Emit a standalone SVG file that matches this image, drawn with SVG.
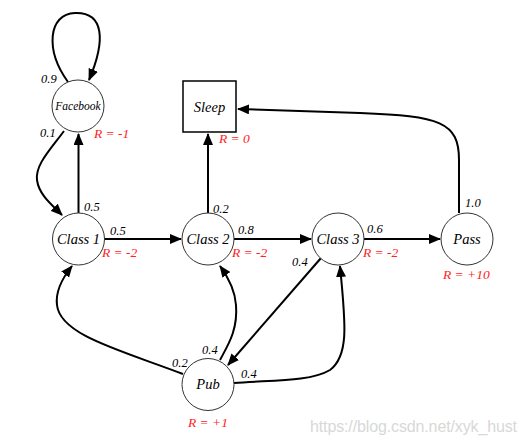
<svg xmlns="http://www.w3.org/2000/svg" width="527" height="446" viewBox="0 0 527 446">
<style>
.node{fill:#fff;stroke:#333;stroke-width:1}
.box{fill:#fff;stroke:#000;stroke-width:1.5}
.lbl{font-family:'Liberation Serif','DejaVu Serif','Times New Roman',serif;font-style:italic;font-size:14.5px;fill:#000;text-anchor:middle}
.el{font-family:'Liberation Serif','DejaVu Serif','Times New Roman',serif;font-style:italic;font-size:12.5px;fill:#000}
.r{font-family:'Liberation Serif','DejaVu Serif','Times New Roman',serif;font-style:italic;font-size:13.5px;fill:#f22}
.e{fill:none;stroke:#000;stroke-width:2;marker-end:url(#arr)}
.wm{font-family:'Liberation Sans',sans-serif;font-size:16px;fill:#d8d8d8}
</style>
<defs>
<marker id="arr" markerWidth="12" markerHeight="10" refX="11" refY="5" orient="auto" markerUnits="userSpaceOnUse">
<path d="M0,0 L12,5 L0,10 z" fill="#000"/>
</marker>
</defs>
<g id="connectors">
<path class="e" d="M68,82 C45,50 48,14 75,13 C104,12 106,40 89,80"/>
<path class="e" d="M64,131 C50,150 35,165 37,180 C39,195 52,205 62,215"/>
<path class="e" d="M78.5,213 L78.5,134"/>
<path class="e" d="M104,239 L181,239"/>
<path class="e" d="M208,213 L208,134"/>
<path class="e" d="M234,239 L311,239"/>
<path class="e" d="M364,239 L440,239"/>
<path class="e" d="M459,213 L459,160 C459,122 440,116 360,113 L238,109"/>
<path class="e" d="M321,258 L228,365"/>
<path class="e" d="M183,374 C120,350 60,335 57,305 C55,290 64,276 72,266"/>
<path class="e" d="M220,360 C228,345 238,330 236,305 C235,290 228,277 220,266"/>
<path class="e" d="M234,383 C270,380 310,382 330,370 C350,355 345,320 340,266"/>
</g>
<g id="facebook">
<circle class="node" cx="78" cy="106" r="26"/>
<text class="lbl" x="78" y="110" font-size="11.5" style="font-size:11.5px">Facebook</text>
</g>
<g id="class1">
<circle class="node" cx="78.5" cy="239" r="26"/>
<text class="lbl" x="78.5" y="244">Class 1</text>
</g>
<g id="class2">
<circle class="node" cx="208" cy="239" r="26"/>
<text class="lbl" x="208" y="244">Class 2</text>
</g>
<g id="class3">
<circle class="node" cx="338" cy="239" r="26"/>
<text class="lbl" x="338" y="244">Class 3</text>
</g>
<g id="pass">
<circle class="node" cx="467" cy="239" r="26"/>
<text class="lbl" x="467" y="244">Pass</text>
</g>
<g id="pub">
<circle class="node" cx="208" cy="384.5" r="26"/>
<text class="lbl" x="208" y="389">Pub</text>
</g>
<g id="sleep">
<rect class="box" x="183" y="81" width="53" height="51"/>
<text class="lbl" x="209.5" y="112">Sleep</text>
</g>
<g id="labels">
<text class="el" x="41" y="83">0.9</text>
<text class="el" x="40" y="137">0.1</text>
<text class="el" x="84" y="211">0.5</text>
<text class="el" x="110" y="235">0.5</text>
<text class="el" x="213" y="213">0.2</text>
<text class="el" x="238" y="234">0.8</text>
<text class="el" x="367" y="233">0.6</text>
<text class="el" x="465" y="207">1.0</text>
<text class="el" x="292" y="266">0.4</text>
<text class="el" x="172" y="367">0.2</text>
<text class="el" x="202" y="354">0.4</text>
<text class="el" x="241" y="378">0.4</text>
<text class="r" x="94" y="138">R = -1</text>
<text class="r" x="219" y="143">R = 0</text>
<text class="r" x="102" y="257">R = -2</text>
<text class="r" x="232" y="257">R = -2</text>
<text class="r" x="363" y="257">R = -2</text>
<text class="r" x="443" y="279">R = +10</text>
<text class="r" x="188" y="427">R = +1</text>
<text class="wm" x="310" y="432" textLength="207">https://blog.csdn.net/xyk_hust</text>
</g>
</svg>
